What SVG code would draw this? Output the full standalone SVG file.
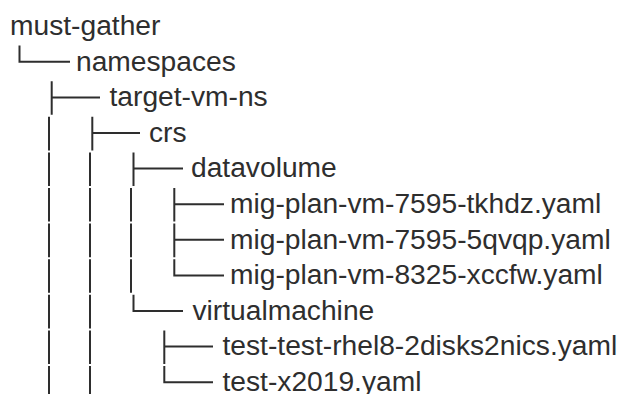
<svg xmlns="http://www.w3.org/2000/svg" width="617" height="394" viewBox="0 0 617 394">
  <style>
    .label { font-family: "Liberation Sans", Arial, Helvetica, sans-serif; font-size: 28.2px; fill: #2e2e2e; }
    .branch { fill: none; stroke: #2e2e2e; stroke-width: 2; stroke-linecap: butt; stroke-linejoin: miter; }
  </style>
  <rect width="617" height="394" fill="#ffffff"/>

  <!-- tree connectors: one box-drawing cell per row, rows 35.6px apart -->
  <g id="connectors" class="branch">
    <!-- row 1: namespaces -->
    <path d="M19.5 45.6 V61.8 H70"/>
    <!-- row 2: target-vm-ns -->
    <path d="M51.7 81.2 V114.8 M51.7 97.4 H100"/>
    <!-- row 3: crs -->
    <path d="M49 116.8 V150.4 M92.3 116.8 V150.4 M92.3 133 H140"/>
    <!-- row 4: datavolume -->
    <path d="M49 152.4 V186 M90 152.4 V186 M133.5 152.4 V186 M133.5 168.6 H183"/>
    <!-- rows 5-7: datavolume entries -->
    <path d="M49 188 V221.6 M90 188 V221.6 M131 188 V221.6 M174.3 188 V221.6 M174.3 204.2 H224"/>
    <path d="M49 223.6 V257.2 M90 223.6 V257.2 M131 223.6 V257.2 M174.3 223.6 V257.2 M174.3 239.8 H224"/>
    <path d="M49 259.2 V292.8 M90 259.2 V292.8 M131 259.2 V292.8 M174.3 259.2 V275.4 H224"/>
    <!-- row 8: virtualmachine -->
    <path d="M49 294.8 V328.4 M90 294.8 V328.4 M133.5 294.8 V311 H183"/>
    <!-- rows 9-10: virtualmachine entries -->
    <path d="M49 330.4 V364 M90 330.4 V364 M164.3 330.4 V364 M164.3 346.6 H213"/>
    <path d="M49 366 V394 M90 366 V394 M164.3 366 V382.2 H213"/>
  </g>

  <g id="must-gather"><text class="label" x="10" y="34.9">must-gather</text></g>
  <g id="namespaces"><text class="label" x="76" y="70.5">namespaces</text></g>
  <g id="target-vm-ns"><text class="label" x="109.5" y="106.1">target-vm-ns</text></g>
  <g id="crs"><text class="label" x="149" y="141.7">crs</text></g>
  <g id="datavolume"><text class="label" x="191" y="177.3">datavolume</text></g>
  <g id="dv-tkhdz"><text class="label" x="230" y="212.9">mig-plan-vm-7595-tkhdz.yaml</text></g>
  <g id="dv-5qvqp"><text class="label" x="230" y="248.5">mig-plan-vm-7595-5qvqp.yaml</text></g>
  <g id="dv-xccfw"><text class="label" x="230" y="284.1">mig-plan-vm-8325-xccfw.yaml</text></g>
  <g id="virtualmachine"><text class="label" x="192.5" y="319.7">virtualmachine</text></g>
  <g id="vm-rhel8"><text class="label" x="222.5" y="355.3">test-test-rhel8-2disks2nics.yaml</text></g>
  <g id="vm-x2019"><text class="label" x="222.5" y="390.6">test-x2019.yaml</text></g>
</svg>
